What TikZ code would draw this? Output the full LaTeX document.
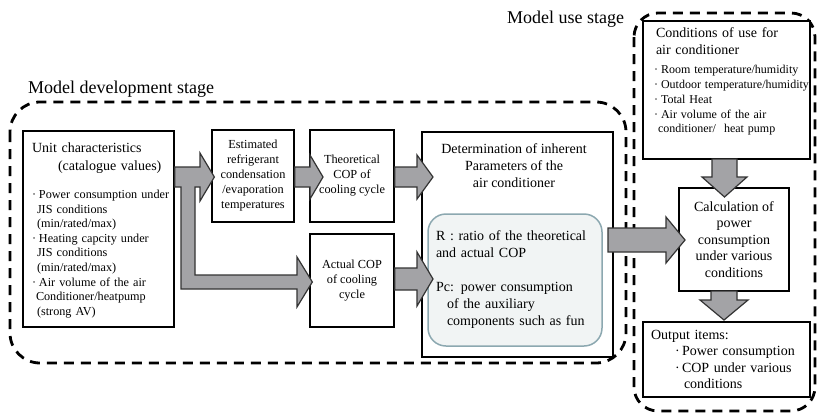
\documentclass[tikz,border=0pt]{standalone}
\usepackage{fontspec}
\setmainfont{Liberation Serif}
\usepackage{tikz}
\usetikzlibrary{calc}

\definecolor{arrgray}{RGB}{163,163,166}
\definecolor{panelfill}{RGB}{241,244,244}
\definecolor{paneldraw}{RGB}{140,168,176}
\newcommand{\bul}{\makebox[7pt][l]{·}}

\begin{document}
\begin{tikzpicture}[
        x=1pt, y=-1pt,                 % 1 unit = 1 pixel of the figure
        box/.style={
            draw,
            line width=1.3pt,
            fill=white,
            inner sep=0pt,
            align=center
        },
        big/.style={font=\fontsize{14}{17}\selectfont},
        small/.style={font=\fontsize{12.3}{15}\selectfont},
        stage/.style={line width=2.8pt, dash pattern=on 10pt off 7pt, rounded corners=30pt},
        title/.style={font=\fontsize{18}{20}\selectfont, anchor=base west, inner sep=0pt},
        blk/.style={draw=black!80, fill=arrgray, line width=1.2pt, line join=miter}
    ]
    \useasboundingbox (0,0) rectangle (818,416);

    % stages
    \draw[stage] (10,102) rectangle (626,363);
    \draw[stage, rounded corners=24pt] (634,13) rectangle (815,411);
    \node[title] (devlabel) at (28,93) {Model development stage};
    \node[title] (uselabel) at (507,23) {Model use stage};

    % boxes
    \node[box, minimum width=151, minimum height=196] (unit) at (98.5,229) {};
    \node[big, align=left, text width=140, font=\fontsize{14}{18}\selectfont] (unithead) at (102,158)
        {Unit characteristics\\\hspace*{26pt}(catalogue values)};
    \node[align=left, text width=140, font=\fontsize{12.2}{14.6}\selectfont] (unitlist) at (102,254)
        {\bul Power consumption under\\
         \hspace*{5pt}JIS conditions\\
         \hspace*{5pt}(min/rated/max)\\
         \bul Heating capcity under\\
         \hspace*{5pt}JIS conditions\\
         \hspace*{5pt}(min/rated/max)\\
         \bul Air volume of the air\\
         \hspace*{4pt}Conditioner/heatpump\\
         \hspace*{5pt}(strong AV)};

    \node[box, small, minimum width=82, minimum height=92] (est) at (253,176)
        {Estimated\\refrigerant\\condensation\\/evaporation\\temperatures};
    \node[box, small, minimum width=84, minimum height=92] (theo) at (352,176)
        {Theoretical\\COP of\\cooling cycle};
    \node[box, small, minimum width=84, minimum height=93] (act) at (352,280.5)
        {Actual COP\\of cooling\\cycle};

    \node[box, minimum width=191, minimum height=225] (det) at (517.5,244.5) {};
    \node[big, align=center] (dethead) at (514,166)
        {Determination of inherent\\Parameters of the\\air conditioner};
    \node[draw=paneldraw, fill=panelfill, line width=1.5pt, rounded corners=18pt,
          minimum width=174, minimum height=132, inner xsep=8pt,
          text width=158, align=left, big] (param) at (515,280)
        {R : ratio of the theoretical\\and actual COP\\[17pt]
         Pc: power consumption\\\hspace*{11pt}of the auxiliary\\\hspace*{11pt}components such as fun};

    \node[box, minimum width=167, minimum height=138] (cond) at (726.5,90) {};
    \node[big, align=left, text width=160] (condhead) at (736,41.5)
        {Conditions of use for\\air conditioner};
    \node[align=left, text width=164, font=\fontsize{12}{14.7}\selectfont] (condlist) at (736,100.5)
        {\bul Room temperature/humidity\\
         \bul Outdoor temperature/humidity\\
         \bul Total Heat\\
         \bul Air volume of the air\\
         \hspace*{4pt}conditioner/\ \ heat pump};

    \node[box, minimum width=110, minimum height=103, font=\fontsize{14}{16.5}\selectfont] (calc) at (734,239.5)
        {Calculation of\\power\\consumption\\under various\\conditions};

    \node[box, minimum width=167, minimum height=75, align=left, text width=151,
          font=\fontsize{14}{16.5}\selectfont] (out) at (726.5,359.5)
        {Output items:\\
         \hspace*{24pt}\bul Power consumption\\
         \hspace*{24pt}\bul COP under various\\
         \hspace*{33pt}conditions};

    % block arrows
    \draw[blk] (unit.east |- 0,167) -- (200,167) -- (200,153) -- ($(est.west)+(3,1)$)
        -- (200,201) -- (200,187) -- (195,187) -- (195,275) -- (297,275) -- (297,257)
        -- ($(act.west)+(3,1.5)$) -- (297,307) -- (297,289) -- (181,289) -- (181,187)
        -- (unit.east |- 0,187) -- cycle;
    \draw[blk] (est.east |- 0,167) -- (310,167) -- (310,155) -- (323,177) -- (310,199)
        -- (310,187) -- (est.east |- 0,187) -- cycle;
    \draw[blk] (theo.east |- 0,167) -- (417,167) -- (417,155) -- (433,177) -- (417,199)
        -- (417,187) -- (theo.east |- 0,187) -- cycle;
    \draw[blk] (act.east |- 0,268) -- (417,268) -- (417,252) -- (433,279) -- (417,306)
        -- (417,290) -- (act.east |- 0,290) -- cycle;
    \draw[blk] (608,228) -- (666,228) -- (666,217) -- (685,240) -- (666,263)
        -- (666,252) -- (608,252) -- cycle;
    \draw[blk] (712,159) -- (712,177) -- (702,177) -- (724.5,197) -- (747,177)
        -- (737,177) -- (737,159) -- cycle;
    \draw[blk] (711,291) -- (711,300) -- (700,300) -- (724,320) -- (748,300)
        -- (737,300) -- (737,291) -- cycle;
\end{tikzpicture}
\end{document}
